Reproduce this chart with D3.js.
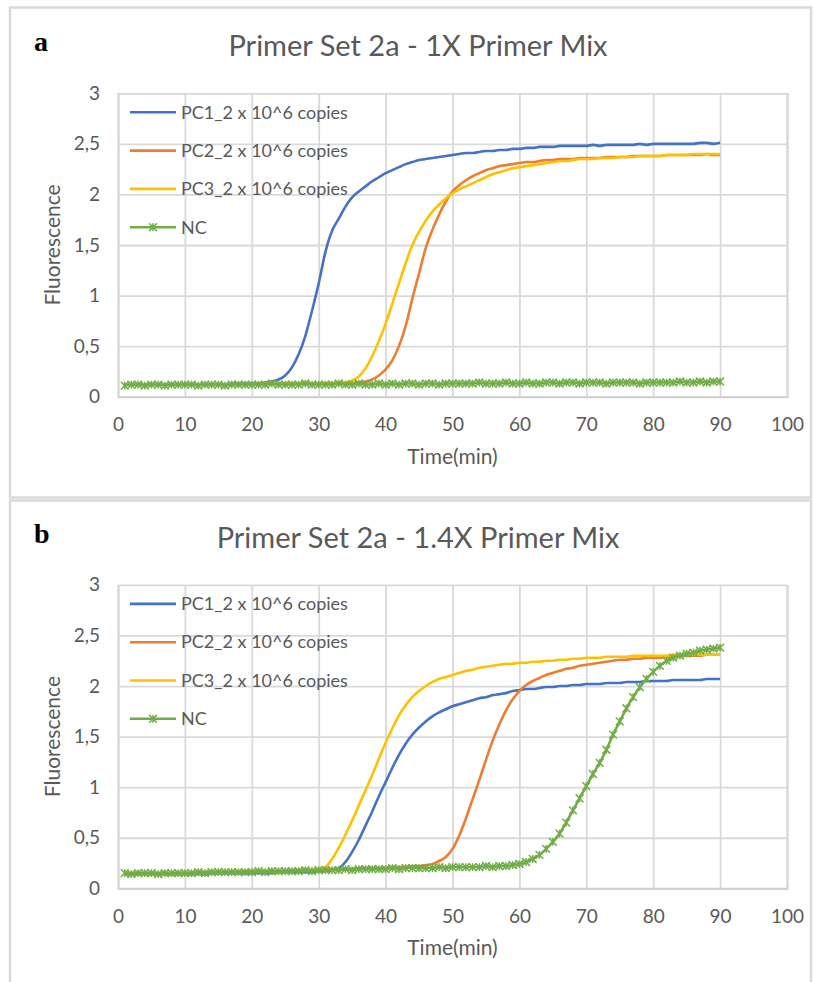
<!DOCTYPE html>
<html>
<head>
<meta charset="utf-8">
<script src="https://cdn.jsdelivr.net/npm/d3@7"></script>
<style>
  body { margin: 0; background: #fff; }
  svg { display: block; font-family: Lato, "Open Sans", sans-serif; }
</style>
</head>
<body>
<svg width="813" height="982"></svg>
<script>
// sample times (min)
var times = [1,2,3,4,5,6,7,8,9,10,11,12,13,14,15,16,17,18,19,20,
  21,22,23,24,25,26,27,28,29,30,31,32,33,34,35,36,37,38,39,40,
  41,42,43,44,45,46,47,48,49,50,51,52,53,54,55,56,57,58,59,60,
  61,62,63,64,65,66,67,68,69,70,71,72,73,74,75,76,77,78,79,80,
  81,82,83,84,85,86,87,88,89,90];

var seriesNames = ["PC1_2 x 10^6 copies", "PC2_2 x 10^6 copies", "PC3_2 x 10^6 copies", "NC"];
var seriesColors = ["#4472c4", "#ed7d31", "#ffc000", "#70ad47"];

var xTicks = [0, 10, 20, 30, 40, 50, 60, 70, 80, 90, 100];
var yTicks = [0, 0.5, 1, 1.5, 2, 2.5, 3];
var yTickLabels = ["0", "0,5", "1", "1,5", "2", "2,5", "3"];

var panelLabels = ["a", "b"];
var panelTitles = ["Primer Set 2a - 1X Primer Mix", "Primer Set 2a - 1.4X Primer Mix"];

// panel a : 1X primer mix
var a_pc1 = [0.12,0.12,0.12,0.12,0.12,0.12,0.12,0.12,0.12,0.12,
  0.12,0.12,0.12,0.12,0.12,0.12,0.13,0.13,0.13,0.13,
  0.13,0.14,0.15,0.17,0.21,0.29,0.42,0.60,0.85,1.12,
  1.43,1.64,1.76,1.88,1.97,2.03,2.08,2.13,2.17,2.21,
  2.24,2.27,2.30,2.32,2.34,2.35,2.36,2.37,2.38,2.39,
  2.40,2.41,2.41,2.42,2.43,2.43,2.44,2.44,2.45,2.45,
  2.46,2.46,2.47,2.47,2.47,2.48,2.48,2.48,2.48,2.48,
  2.49,2.48,2.49,2.49,2.49,2.49,2.49,2.50,2.49,2.50,
  2.50,2.50,2.50,2.50,2.50,2.50,2.51,2.51,2.50,2.51];
var a_pc2 = [0.12,0.12,0.12,0.12,0.12,0.12,0.12,0.12,0.12,0.12,
  0.12,0.12,0.12,0.12,0.12,0.12,0.12,0.12,0.12,0.12,
  0.13,0.13,0.13,0.13,0.13,0.13,0.13,0.13,0.13,0.13,
  0.13,0.13,0.13,0.13,0.13,0.14,0.15,0.17,0.21,0.27,
  0.36,0.50,0.70,0.97,1.22,1.47,1.65,1.80,1.93,2.03,
  2.09,2.14,2.18,2.21,2.24,2.26,2.28,2.29,2.30,2.31,
  2.32,2.32,2.33,2.34,2.34,2.35,2.35,2.35,2.36,2.36,
  2.36,2.36,2.37,2.37,2.37,2.37,2.38,2.38,2.38,2.38,
  2.38,2.39,2.39,2.39,2.39,2.39,2.39,2.40,2.39,2.39];
var a_pc3 = [0.12,0.12,0.12,0.12,0.12,0.12,0.12,0.12,0.12,0.12,
  0.12,0.12,0.12,0.12,0.12,0.12,0.12,0.12,0.12,0.12,
  0.12,0.13,0.13,0.13,0.13,0.13,0.13,0.13,0.13,0.13,
  0.13,0.13,0.13,0.14,0.16,0.20,0.28,0.40,0.55,0.72,
  0.92,1.12,1.32,1.50,1.63,1.74,1.83,1.90,1.96,2.01,
  2.05,2.08,2.11,2.14,2.17,2.20,2.22,2.24,2.26,2.27,
  2.28,2.29,2.30,2.31,2.32,2.33,2.33,2.34,2.35,2.35,
  2.35,2.36,2.36,2.36,2.37,2.37,2.37,2.38,2.38,2.38,
  2.38,2.39,2.39,2.39,2.39,2.40,2.40,2.40,2.40,2.40];
var a_nc = [0.11,0.12,0.12,0.11,0.12,0.12,0.11,0.12,0.12,0.12,
  0.12,0.11,0.12,0.12,0.12,0.11,0.12,0.12,0.12,0.12,
  0.12,0.12,0.13,0.12,0.12,0.12,0.12,0.13,0.12,0.12,
  0.12,0.12,0.13,0.12,0.12,0.13,0.12,0.12,0.13,0.12,
  0.13,0.12,0.13,0.13,0.12,0.13,0.13,0.12,0.13,0.13,
  0.13,0.13,0.13,0.14,0.13,0.13,0.13,0.14,0.13,0.13,
  0.14,0.13,0.13,0.14,0.14,0.13,0.14,0.14,0.13,0.14,
  0.14,0.14,0.13,0.14,0.14,0.14,0.14,0.13,0.14,0.14,
  0.14,0.14,0.14,0.15,0.14,0.14,0.15,0.14,0.15,0.15];

// panel b : 1.4X primer mix
var b_pc1 = [0.14,0.14,0.14,0.14,0.14,0.14,0.14,0.14,0.14,0.14,
  0.14,0.14,0.14,0.15,0.15,0.15,0.15,0.15,0.15,0.15,
  0.15,0.15,0.15,0.16,0.16,0.16,0.16,0.16,0.16,0.17,
  0.17,0.18,0.20,0.26,0.36,0.48,0.62,0.76,0.91,1.05,
  1.19,1.32,1.43,1.52,1.59,1.65,1.70,1.74,1.77,1.80,
  1.82,1.84,1.86,1.88,1.89,1.91,1.92,1.93,1.95,1.96,
  1.97,1.97,1.98,1.99,1.99,2.00,2.00,2.01,2.01,2.02,
  2.02,2.02,2.03,2.03,2.03,2.04,2.04,2.04,2.05,2.05,
  2.05,2.05,2.06,2.06,2.06,2.06,2.06,2.07,2.07,2.07];
var b_pc2 = [0.15,0.15,0.15,0.15,0.15,0.15,0.15,0.15,0.15,0.15,
  0.15,0.16,0.16,0.16,0.16,0.16,0.16,0.16,0.17,0.17,
  0.17,0.17,0.17,0.17,0.17,0.18,0.18,0.18,0.18,0.18,
  0.18,0.19,0.19,0.19,0.19,0.20,0.20,0.20,0.20,0.20,
  0.21,0.21,0.21,0.22,0.22,0.23,0.24,0.27,0.31,0.39,
  0.52,0.69,0.88,1.07,1.27,1.46,1.62,1.76,1.87,1.95,
  2.01,2.05,2.08,2.11,2.13,2.15,2.17,2.18,2.20,2.21,
  2.22,2.23,2.24,2.25,2.26,2.26,2.27,2.27,2.28,2.28,
  2.28,2.29,2.29,2.30,2.30,2.30,2.30,2.31,2.31,2.31];
var b_pc3 = [0.15,0.15,0.15,0.15,0.15,0.15,0.15,0.15,0.15,0.15,
  0.15,0.15,0.16,0.16,0.16,0.16,0.16,0.16,0.16,0.17,
  0.17,0.17,0.17,0.17,0.17,0.17,0.18,0.18,0.18,0.19,
  0.21,0.29,0.40,0.53,0.67,0.82,0.97,1.12,1.28,1.44,
  1.58,1.71,1.81,1.89,1.95,2.00,2.04,2.07,2.09,2.11,
  2.13,2.15,2.16,2.18,2.19,2.20,2.21,2.22,2.22,2.23,
  2.23,2.24,2.24,2.25,2.25,2.26,2.26,2.27,2.27,2.28,
  2.28,2.28,2.29,2.29,2.29,2.29,2.30,2.30,2.30,2.30,
  2.30,2.30,2.31,2.31,2.31,2.31,2.31,2.31,2.31,2.31];
var b_nc = [0.15,0.14,0.15,0.15,0.15,0.14,0.15,0.15,0.15,0.15,
  0.15,0.16,0.15,0.16,0.16,0.16,0.16,0.16,0.16,0.16,
  0.17,0.16,0.17,0.17,0.17,0.17,0.17,0.18,0.17,0.18,
  0.18,0.18,0.18,0.19,0.18,0.19,0.19,0.19,0.19,0.19,
  0.20,0.19,0.20,0.20,0.20,0.20,0.20,0.21,0.20,0.21,
  0.21,0.21,0.21,0.21,0.22,0.21,0.22,0.22,0.23,0.24,
  0.26,0.29,0.33,0.39,0.46,0.54,0.65,0.77,0.89,1.01,
  1.13,1.24,1.37,1.52,1.65,1.78,1.89,1.99,2.07,2.14,
  2.20,2.25,2.28,2.30,2.32,2.33,2.35,2.36,2.37,2.38];

var panelSeries = [[a_pc1, a_pc2, a_pc3, a_nc], [b_pc1, b_pc2, b_pc3, b_nc]];

var svg = d3.select("svg");
var textColor = "#595959",
    gridColor = "#d9d9d9";

var x = d3.scaleLinear().domain([0, 100]).range([118, 787]);
var y = d3.scaleLinear().domain([0, 3]).range([396.7, 93.3]);

var line = d3.line()
    .x(function(d) { return x(d[0]); })
    .y(function(d) { return y(d[1]); })
    .curve(d3.curveMonotoneX);

function starPath(s) {
  return "M" + (-s) + "," + (-s) + "L" + s + "," + s +
         "M" + (-s) + "," + s + "L" + s + "," + (-s) +
         "M0," + (-s) + "L0," + s;
}

// panel frames
svg.append("rect").attr("x", 10).attr("y", 7.5).attr("width", 801).attr("height", 490)
    .attr("fill", "none").attr("stroke", gridColor).attr("stroke-width", 2.5);
svg.append("rect").attr("x", 10).attr("y", 500.5).attr("width", 801).attr("height", 500)
    .attr("fill", "none").attr("stroke", gridColor).attr("stroke-width", 2.5);

function drawPanel(p) {
  var g = svg.append("g").attr("transform", "translate(0," + (p * 491.6) + ")");

  g.append("text")
      .attr("x", 34).attr("y", 51)
      .style("font-family", "'Liberation Serif', 'Times New Roman', serif")
      .style("font-weight", "bold")
      .style("font-size", "28px")
      .attr("fill", "#000")
      .text(panelLabels[p]);

  g.append("text")
      .attr("x", 418).attr("y", 56)
      .attr("text-anchor", "middle")
      .style("font-size", "29px")
      .attr("fill", textColor)
      .text(panelTitles[p]);

  // y grid + labels
  var yAxis = g.append("g")
      .attr("transform", "translate(" + x(0) + ",0)")
      .call(d3.axisLeft(y)
        .tickValues(yTicks)
        .tickSize(-(x(100) - x(0)))
        .tickPadding(18)
        .tickFormat(function(d, i) { return yTickLabels[i]; }));
  yAxis.select(".domain").remove();
  yAxis.selectAll(".tick line").attr("stroke", gridColor).attr("stroke-width", 1.8);
  yAxis.selectAll(".tick text").attr("fill", textColor).style("font-size", "19px")
      .style("font-family", "Lato, 'Open Sans', sans-serif");

  // x grid + labels
  var xAxis = g.append("g")
      .attr("transform", "translate(0," + y(0) + ")")
      .call(d3.axisBottom(x)
        .tickValues(xTicks)
        .tickSize(-(y(0) - y(3)))
        .tickPadding(21)
        .tickFormat(d3.format("d")));
  xAxis.select(".domain").attr("stroke", "#cfcfcf").attr("stroke-width", 2);
  xAxis.selectAll(".tick line").attr("stroke", gridColor).attr("stroke-width", 1.8);
  xAxis.selectAll(".tick text").attr("fill", textColor).style("font-size", "19px")
      .style("font-family", "Lato, 'Open Sans', sans-serif");

  // axis titles
  g.append("text")
      .attr("x", (x(0) + x(100)) / 2).attr("y", y(0) + 67)
      .attr("text-anchor", "middle")
      .style("font-size", "21px")
      .attr("fill", textColor)
      .text("Time(min)");
  g.append("text")
      .attr("transform", "translate(60," + ((y(0) + y(3)) / 2) + ") rotate(-90)")
      .attr("text-anchor", "middle")
      .style("font-size", "21px")
      .attr("fill", textColor)
      .text("Fluorescence");

  // series
  panelSeries[p].forEach(function(vals, i) {
    var pts = times.map(function(t, k) { return [t, vals[k]]; });
    g.append("path")
        .datum(pts)
        .attr("fill", "none")
        .attr("stroke", seriesColors[i])
        .attr("stroke-width", 2.6)
        .attr("stroke-linejoin", "round")
        .attr("d", line);
    if (i === 3) {
      g.append("g").selectAll("path")
        .data(pts)
        .enter().append("path")
          .attr("transform", function(d) { return "translate(" + x(d[0]) + "," + y(d[1]) + ")"; })
          .attr("d", starPath(3.9))
          .attr("fill", "none")
          .attr("stroke", seriesColors[i])
          .attr("stroke-width", 1.5);
    }
  });

  // legend
  var leg = g.append("g");
  seriesNames.forEach(function(name, i) {
    var ly = 112.3 + i * 38.3;
    leg.append("line")
        .attr("x1", 130).attr("x2", 176).attr("y1", ly).attr("y2", ly)
        .attr("stroke", seriesColors[i]).attr("stroke-width", 2.6);
    if (i === 3) {
      leg.append("path")
          .attr("transform", "translate(153," + ly + ")")
          .attr("d", starPath(3.9))
          .attr("fill", "none")
          .attr("stroke", seriesColors[i])
          .attr("stroke-width", 1.5);
    }
    leg.append("text")
        .attr("x", 181).attr("y", ly).attr("dy", "0.35em")
        .style("font-size", "18px")
        .attr("fill", textColor)
        .text(name);
  });
}

drawPanel(0);
drawPanel(1);
</script>
</body>
</html>
